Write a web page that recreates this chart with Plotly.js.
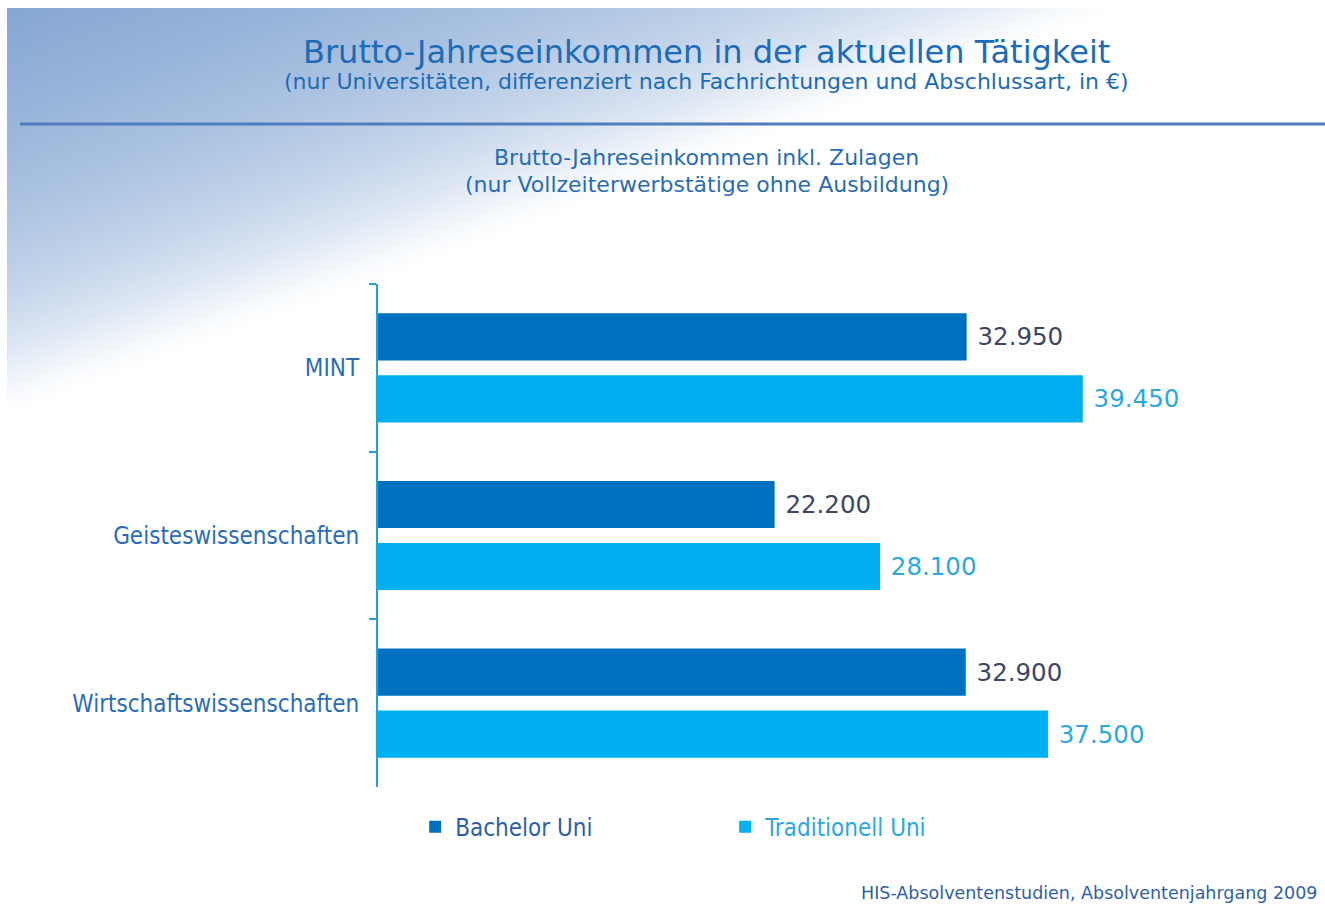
<!DOCTYPE html>
<html>
<head>
<meta charset="utf-8">
<script src="https://cdn.plot.ly/plotly-3.0.1.min.js"></script>
<style>
  html, body { margin: 0; padding: 0; background: #ffffff; }
  body { width: 1325px; height: 905px; overflow: hidden; position: relative; }
  #bg {
    position: absolute; left: 7px; top: 8px; right: 0; bottom: 0;
    background: linear-gradient(160deg, #86a7d2 0%, #98b4da 8%, #adc4e2 15%, #c6d6eb 21%, #dfe8f4 25%, #f6f9fc 28%, #ffffff 29.5%, #ffffff 100%);
  }
  #chart { position: absolute; left: 0; top: 0; width: 1325px; height: 905px; }
</style>
</head>
<body>
<div id="bg"></div>
<div id="chart"></div>
<script>
// ---- data ----
const categories = ["MINT", "Geisteswissenschaften", "Wirtschaftswissenschaften"];
const seriesNames = ["Bachelor Uni", "Traditionell Uni"];
const bachelorValues = [32950, 22200, 32900];
const traditionellValues = [39450, 28100, 37500];
const titleText = "Brutto-Jahreseinkommen in der aktuellen Tätigkeit";
const subtitleText = "(nur Universitäten, differenziert nach Fachrichtungen und Abschlussart, in €)";
const chartTitleText = "Brutto-Jahreseinkommen inkl. Zulagen";
const chartSubtitleText = "(nur Vollzeiterwerbstätige ohne Ausbildung)";
const sourceText = "HIS-Absolventenstudien, Absolventenjahrgang 2009";

// ---- style ----
const FONT = "'DejaVu Sans Condensed', 'DejaVu Sans', Verdana, sans-serif";
const FONT_WIDE = "'DejaVu Sans', Verdana, sans-serif";
const darkBlue = "#0070c0";
const lightBlue = "#00b0f0";

const traces = [
  {
    type: "bar", orientation: "h",
    name: '<span style="color:#2d5fa8">' + seriesNames[0] + '</span>',
    y: categories, x: bachelorValues,
    marker: { color: darkBlue },
    texttemplate: "\u00a0%{x:,.0f}",
    textposition: "outside",
    textfont: { family: FONT_WIDE, size: 24.5, color: "#3d4663" },
    cliponaxis: false,
    hoverinfo: "x+y"
  },
  {
    type: "bar", orientation: "h",
    name: '<span style="color:#2aa8e0">' + seriesNames[1] + '</span>',
    y: categories, x: traditionellValues,
    marker: { color: lightBlue },
    texttemplate: "\u00a0%{x:,.0f}",
    textposition: "outside",
    textfont: { family: FONT_WIDE, size: 24.5, color: "#2aa8e0" },
    cliponaxis: false,
    hoverinfo: "x+y"
  }
];

const layout = {
  width: 1325, height: 905,
  margin: { l: 378, r: 18, t: 284, b: 118 },
  paper_bgcolor: "rgba(0,0,0,0)",
  plot_bgcolor: "rgba(0,0,0,0)",
  separators: ",.",
  barmode: "group",
  bargap: 0.26,
  bargroupgap: 0.24,
  font: { family: FONT, color: "#2b6cb8" },
  xaxis: {
    range: [0, 52000], visible: false, showgrid: false, zeroline: false, fixedrange: true
  },
  yaxis: {
    type: "category",
    categoryorder: "array", categoryarray: categories,
    range: [2.5, -0.5],
    showline: true, linecolor: "#22a0dc", linewidth: 2,
    ticks: "outside", tickson: "boundaries", ticklen: 7, tickcolor: "#22a0dc", tickwidth: 2,
    ticklabelstandoff: 12,
    tickfont: { family: FONT, size: 24, color: "#2b6cb8" },
    showgrid: false, zeroline: false, fixedrange: true
  },
  showlegend: true,
  legend: {
    orientation: "h",
    x: 0.04, xanchor: "left",
    y: -0.08, yanchor: "middle",
    font: { family: FONT, size: 24 },
    entrywidth: 265, entrywidthmode: "pixels",
    bgcolor: "rgba(0,0,0,0)",
    traceorder: "normal"
  },
  shapes: [
    {
      type: "line", xref: "paper", yref: "paper",
      x0: -0.3854, x1: 1.02, y0: 1.318, y1: 1.318,
      line: { color: "#4f7dbd", width: 3 }
    }
  ],
  annotations: [
    {
      text: titleText, xref: "paper", yref: "paper",
      x: 0.354, y: 1.461, xanchor: "center", yanchor: "middle", showarrow: false,
      font: { family: FONT_WIDE, size: 32, color: "#1c6cb6" }
    },
    {
      text: subtitleText, xref: "paper", yref: "paper",
      x: 0.354, y: 1.4016, xanchor: "center", yanchor: "middle", showarrow: false,
      font: { family: FONT_WIDE, size: 22, color: "#1c6cb6" }
    },
    {
      text: chartTitleText, xref: "paper", yref: "paper",
      x: 0.354, y: 1.2505, xanchor: "center", yanchor: "middle", showarrow: false,
      font: { family: FONT_WIDE, size: 22, color: "#2a6cb2" }
    },
    {
      text: chartSubtitleText, xref: "paper", yref: "paper",
      x: 0.354, y: 1.1988, xanchor: "center", yanchor: "middle", showarrow: false,
      font: { family: FONT_WIDE, size: 22, color: "#2a6cb2" }
    },
    {
      text: sourceText, xref: "paper", yref: "paper",
      x: 0.518, y: -0.2107, xanchor: "left", yanchor: "middle", showarrow: false,
      font: { family: FONT_WIDE, size: 17.5, color: "#2f5fa5" }
    }
  ]
};

Plotly.newPlot("chart", traces, layout, { displayModeBar: false, staticPlot: true });
</script>
</body>
</html>
